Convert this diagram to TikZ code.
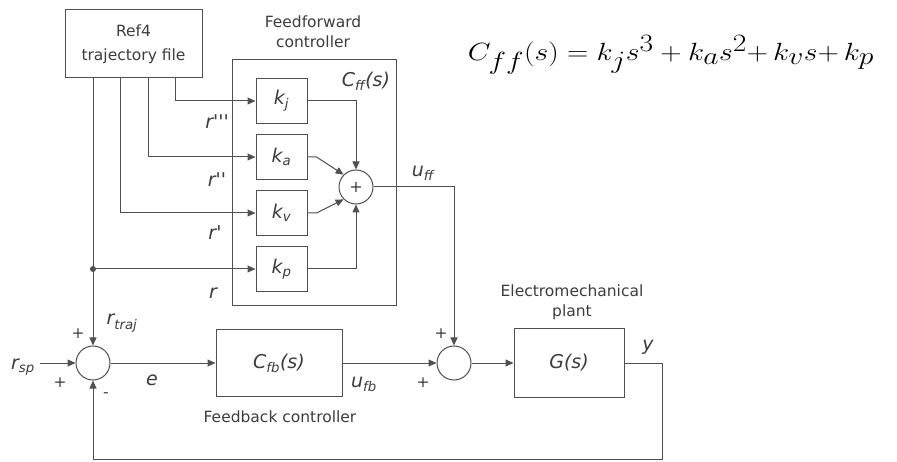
\documentclass[tikz,border=0pt]{standalone}
\usepackage{fontspec}
\newfontfamily\dvs{DejaVu Sans}
\usetikzlibrary{arrows.meta,calc}
\definecolor{ln}{HTML}{505050}
\definecolor{tx}{HTML}{3C3C3C}
\newcommand{\pq}{\textquotesingle}
\begin{document}
\begin{tikzpicture}[x=1pt,y=-1pt,
  blk/.style={draw=ln,line width=1pt,fill=white,inner sep=0pt},
  sumc/.style={draw=ln,line width=1pt,circle,minimum size=34pt,inner sep=0pt,fill=white},
  conn/.style={draw=ln,line width=1pt},
  arr/.style={conn,-{Triangle[length=8pt,width=7pt]}},
  lbl/.style={text=tx,font=\dvs\fontsize{15.5}{20}\selectfont,inner sep=0pt},
  ilbl/.style={text=tx,font=\dvs\itshape\fontsize{19}{20}\selectfont,inner sep=0pt},
  kbox/.style={blk,minimum width=51pt,minimum height=45pt,text=tx,font=\dvs\itshape\fontsize{19}{20}\selectfont},
]
\useasboundingbox (0,0) rectangle (897,462);

% blocks
\node[blk,minimum width=137pt,minimum height=68pt,align=center,text=tx,
      font=\dvs\fontsize{15.5}{24}\selectfont] (ref) at (133.5,44) {Ref4\\trajectory file};
\node[blk,minimum width=164pt,minimum height=246pt] (ff) at (314,183) {};
\node[lbl,align=center] (fftitle) at (313,32) {Feedforward\\controller};
\node[ilbl] (cffl) at (366,81) {C\textsubscript{ff}(s)};

\node[kbox] (kj) at (281.5,101) {k\textsubscript{j}};
\node[kbox] (ka) at (281.5,157) {k\textsubscript{a}};
\node[kbox] (kv) at (281.5,213) {k\textsubscript{v}};
\node[kbox] (kp) at (281.5,269) {k\textsubscript{p}};
\node[sumc,text=tx,font=\dvs\fontsize{16}{18}\selectfont] (sff) at (356,187) {+};

\node[sumc] (s1) at (93,363) {};
\node[sumc] (s2) at (454,363) {};
\node[blk,minimum width=126pt,minimum height=67pt,text=tx,
      font=\dvs\itshape\fontsize{19}{20}\selectfont] (cfb) at (279,363) {C\textsubscript{fb}(s)};
\node[blk,minimum width=110pt,minimum height=68pt,text=tx,
      font=\dvs\itshape\fontsize{19}{20}\selectfont] (G) at (569,363) {G(s)};

% equation
\node[inner sep=0pt,xscale=1.19] (eq) at (671,55) {\fontsize{36}{40}\selectfont $C_{ff}(s) = k_j s^3 + k_a s^2{+}\,k_v s{+}\,k_p$};

% labels
\node[ilbl] (lr3) at (217,122) {r\pq\pq\pq};
\node[ilbl] (lr2) at (217,180) {r\pq\pq};
\node[ilbl] (lr1) at (215,233) {r\pq};
\node[ilbl] (lr0) at (213,293) {r};
\node[ilbl] (luff) at (423,173) {u\textsubscript{ff}};
\node[ilbl] (lrtraj) at (122,323) {r\textsubscript{traj}};
\node[ilbl] (lrsp) at (23,367) {r\textsubscript{sp}};
\node[ilbl] (le) at (152,380) {e};
\node[ilbl] (lufb) at (364,384) {u\textsubscript{fb}};
\node[ilbl] (ly) at (648,347) {y};
\node[lbl] (p1) at (78,334) {+};
\node[lbl] (p2) at (60,383) {+};
\node[lbl] (m1) at (106,395) {-};
\node[lbl] (p3) at (441,334) {+};
\node[lbl] (p4) at (423,383) {+};
\node[lbl] (fbtitle) at (280,417) {Feedback controller};
\node[lbl,align=center] (gtitle) at (572,302) {Electromechanical\\plant};

% coordinates
\coordinate (o0) at (93,78);
\coordinate (o1) at (120,78);
\coordinate (o2) at (148,78);
\coordinate (o3) at (175,78);
\coordinate (jn) at (93,269);
\coordinate (rsp) at (40,363);
\coordinate (yc) at (662,363);
\coordinate (fb) at (93,459);

% connectors
\draw[arr] (o3) |- (kj.west);
\draw[arr] (o2) |- (ka.west);
\draw[arr] (o1) |- (kv.west);
\draw[arr] (o0) -- (s1.north);
\draw[arr] (jn) -- (kp.west);
\fill[ln] (jn) circle (3pt);
\draw[arr] (kj.east) -| (sff.north);
\draw[arr] (ka.east) -- ++(9,0) -- (sff.135);
\draw[arr] (kv.east) -- ++(9,0) -- (sff.225);
\draw[arr] (kp.east) -| (sff.south);
\draw[arr] (sff.east) -| (s2.north);
\draw[arr] (rsp) -- (s1.west);
\draw[arr] (s1.east) -- (cfb.west);
\draw[arr] (cfb.east) -- (s2.west);
\draw[arr] (s2.east) -- (G.west);
\draw[arr] (G.east) -- (yc) |- (fb) -- (s1.south);
\end{tikzpicture}
\end{document}
